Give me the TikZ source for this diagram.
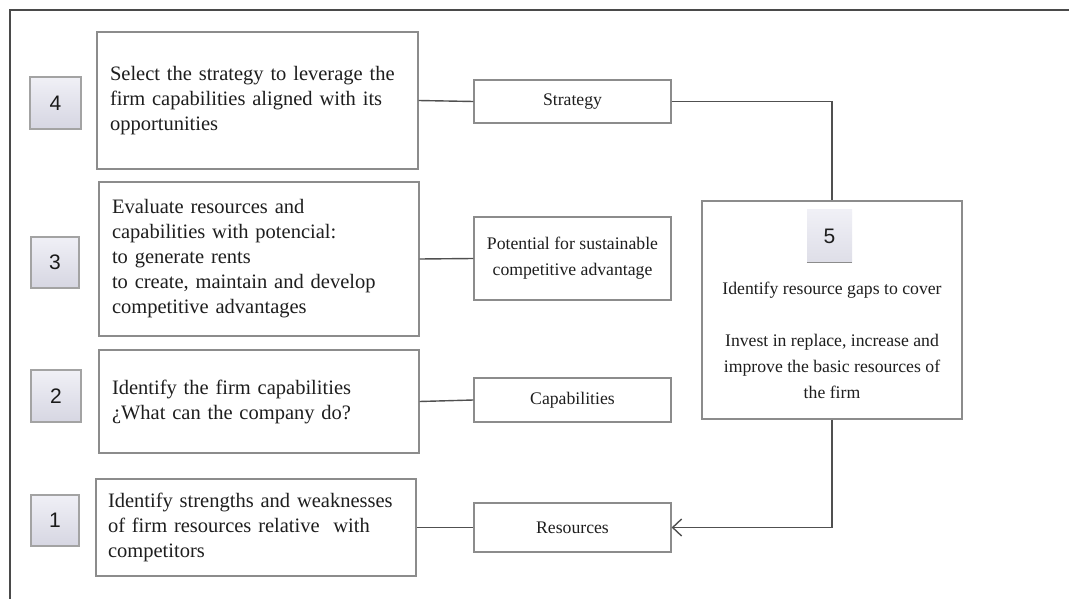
\documentclass[tikz,border=0pt]{standalone}
\usepackage{fontspec}
\setmainfont{Liberation Serif}
\newfontfamily\numfont{Liberation Sans}
\usetikzlibrary{arrows.meta}
\definecolor{boxline}{HTML}{8C8C8C}
\definecolor{wire}{HTML}{505050}
\definecolor{frameline}{HTML}{4A4A4A}
\definecolor{numtop}{HTML}{F0F0F6}
\definecolor{numbot}{HTML}{D6D6E2}
\definecolor{txt}{HTML}{1E1E1E}
\tikzset{
  stepbox/.style={draw=boxline, line width=1.2pt, fill=white, rectangle,
    inner xsep=13pt, inner ysep=0pt, align=left, text=txt,
    font=\fontsize{20.5}{25}\selectfont},
  tagbox/.style={draw=boxline, line width=1.2pt, fill=white, rectangle,
    inner sep=0pt, align=center, text=txt, minimum width=197pt,
    font=\fontsize{17.7}{26}\selectfont},
  numbox/.style={draw=boxline!80, line width=1.1pt, rectangle,
    top color=numtop, bottom color=numbot, inner sep=0pt, text=black!90,
    font=\numfont\fontsize{21}{21}\selectfont},
  wireline/.style={draw=wire, line width=1.4pt},
}
\begin{document}
\begin{tikzpicture}[x=1pt, y=-1pt]
\useasboundingbox (0,0) rectangle (1069,599);
% open frame: left and top edges
\draw[frameline, line width=1.6pt] (10,599) -- (10,10) -- (1069,10);

% numbered step boxes on the left
\node[numbox, minimum width=51pt, minimum height=52pt] (n4) at (55.5,103) {4};
\node[numbox, minimum width=48pt, minimum height=51pt] (n3) at (55,262.5) {3};
\node[numbox, minimum width=50pt, minimum height=52pt] (n2) at (56,396) {2};
\node[numbox, minimum width=48pt, minimum height=51pt] (n1) at (55,520.5) {1};

% step descriptions
\node[stepbox, minimum width=321pt, minimum height=137pt, text width=295pt] (s4) at (257.5,100.5)
  {Select the strategy to leverage the\\firm capabilities aligned with its\\opportunities};
\node[stepbox, minimum width=320pt, minimum height=154pt, text width=294pt] (s3) at (259,259)
  {Evaluate resources and\\capabilities with potencial:\\to generate rents\\to create, maintain and develop\\competitive advantages};
\node[stepbox, minimum width=320pt, minimum height=103pt, text width=294pt] (s2) at (259,401.5)
  {Identify the firm capabilities\\¿What can the company do?};
\node[stepbox, minimum width=320pt, minimum height=97pt, text width=296pt, inner xsep=12pt] (s1) at (256,527.5)
  {Identify strengths and weaknesses\\of firm resources relative\ \ with\\competitors};

% outcome tags
\node[tagbox, minimum height=43pt] (t4) at (572.5,101.5) {Strategy};
\node[tagbox, minimum height=83pt] (t3) at (572.5,258.5) {Potential for sustainable\\competitive advantage};
\node[tagbox, minimum height=44pt] (t2) at (572.5,400) {Capabilities};
\node[tagbox, minimum height=49pt] (t1) at (572.5,527.5) {Resources};

% step 5: resource gaps
\node[draw=boxline, line width=1.2pt, fill=white, minimum width=260pt, minimum height=218pt] (s5) at (832,310) {};
\node[rectangle, top color=numtop, bottom color=numbot!80, minimum width=45pt, minimum height=52pt,
  inner sep=0pt, text=txt, font=\numfont\fontsize{21}{21}\selectfont] (n5) at (829.5,236) {5};
\draw[boxline, line width=0.8pt] (n5.south west) -- (n5.south east);
\node[align=center, inner sep=0pt, text=txt, font=\fontsize{17.7}{26}\selectfont] (s5t) at (832,340)
  {Identify resource gaps to cover\\[26pt]Invest in replace, increase and\\improve the basic resources of\\the firm};

% connectors
\draw[wireline] (s4.east) -- (t4.west);
\draw[wireline] (s3.east) -- (t3.west);
\draw[wireline] (s2.east) -- (t2.west);
\draw[wireline] (s1.east) -- (t1.west);
\draw[wireline] (t4.east) -| (s5.north);
\draw[wireline, -{Straight Barb[length=9pt, width=17pt, line width=1.4pt]}] (s5.south) |- (t1.east);
\end{tikzpicture}
\end{document}
